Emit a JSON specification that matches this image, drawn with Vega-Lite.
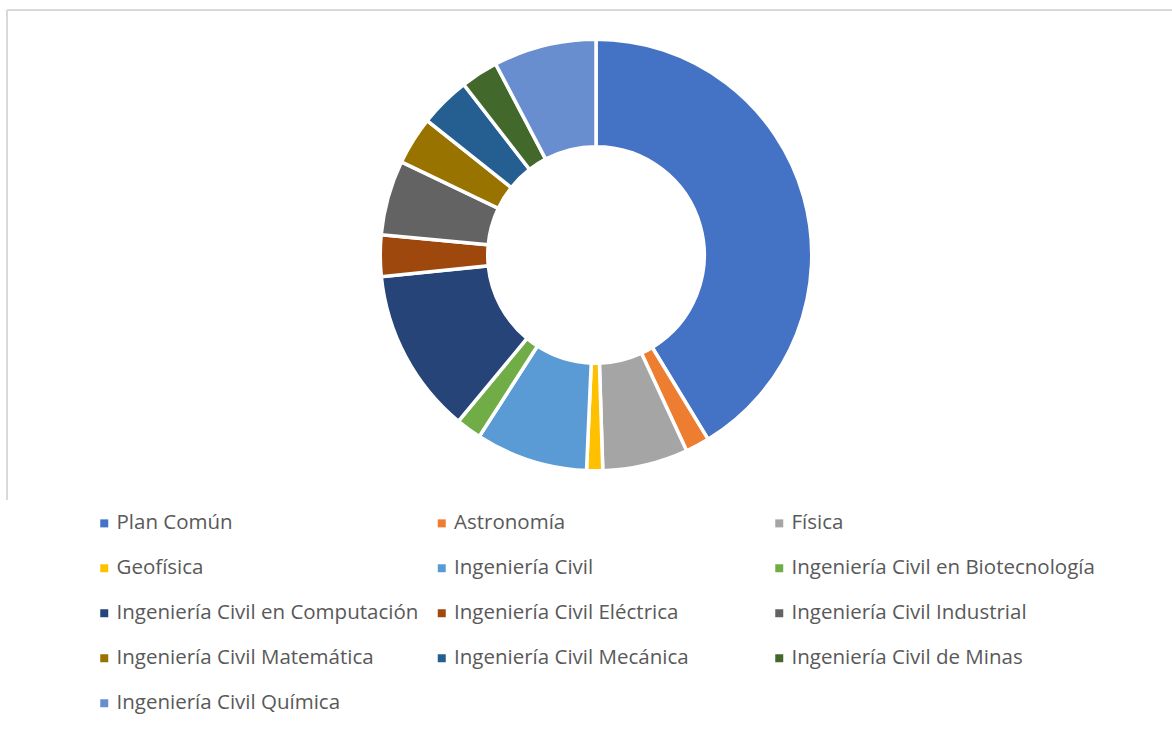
{
  "$schema": "https://vega.github.io/schema/vega-lite/v6.json",
  "width": 1178,
  "height": 490,
  "padding": {"left": 7, "top": 10, "right": 0, "bottom": 0},
  "autosize": {"type": "pad"},
  "background": "white",
  "view": {"stroke": "#d9d9d9", "strokeWidth": 2, "strokeDash": [1178, 1668, 490, 0]},
  "data": {
    "values": [
      {"idx": 1, "carrera": "Plan Común", "pct": 41.3},
      {"idx": 2, "carrera": "Astronomía", "pct": 1.8},
      {"idx": 3, "carrera": "Física", "pct": 6.4},
      {"idx": 4, "carrera": "Geofísica", "pct": 1.2},
      {"idx": 5, "carrera": "Ingeniería Civil", "pct": 8.4},
      {"idx": 6, "carrera": "Ingeniería Civil en Biotecnología", "pct": 1.9},
      {"idx": 7, "carrera": "Ingeniería Civil en Computación", "pct": 12.4},
      {"idx": 8, "carrera": "Ingeniería Civil Eléctrica", "pct": 3.1},
      {"idx": 9, "carrera": "Ingeniería Civil Industrial", "pct": 5.6},
      {"idx": 10, "carrera": "Ingeniería Civil Matemática", "pct": 3.6},
      {"idx": 11, "carrera": "Ingeniería Civil Mecánica", "pct": 3.8},
      {"idx": 12, "carrera": "Ingeniería Civil de Minas", "pct": 2.8},
      {"idx": 13, "carrera": "Ingeniería Civil Química", "pct": 7.7}
    ]
  },
  "mark": {"type": "arc", "outerRadius": 215.75, "innerRadius": 108.25, "stroke": "white", "strokeWidth": 3.5},
  "encoding": {
    "theta": {"field": "pct", "type": "quantitative", "stack": true},
    "order": {"field": "idx", "type": "quantitative", "sort": "ascending"},
    "color": {
      "field": "carrera",
      "type": "nominal",
      "scale": {
        "domain": ["Plan Común", "Astronomía", "Física", "Geofísica", "Ingeniería Civil", "Ingeniería Civil en Biotecnología", "Ingeniería Civil en Computación", "Ingeniería Civil Eléctrica", "Ingeniería Civil Industrial", "Ingeniería Civil Matemática", "Ingeniería Civil Mecánica", "Ingeniería Civil de Minas", "Ingeniería Civil Química"],
        "range": ["#4472C4", "#ED7D31", "#A5A5A5", "#FFC000", "#5B9BD5", "#70AD47", "#264478", "#9E480E", "#636363", "#997300", "#255E91", "#43682B", "#698ED0"]
      },
      "legend": {
        "title": null,
        "orient": "none",
        "direction": "horizontal",
        "legendX": 87,
        "legendY": 503,
        "columns": 3,
        "gridAlign": "all",
        "columnPadding": 11.5,
        "rowPadding": 24,
        "symbolType": "square",
        "symbolSize": 64,
        "symbolStrokeWidth": 0,
        "labelOffset": 2,
        "labelFont": "Open Sans",
        "labelFontSize": 20.5,
        "labelColor": "#595959",
        "labelLimit": 500
      }
    }
  }
}
